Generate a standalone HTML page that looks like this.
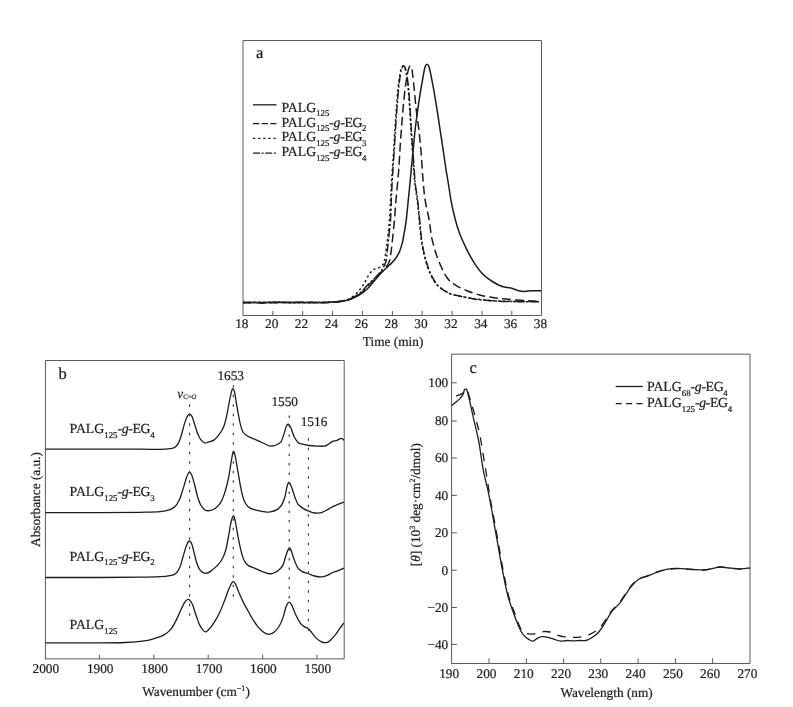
<!DOCTYPE html>
<html><head><meta charset="utf-8"><title>Figure</title>
<style>html,body{margin:0;padding:0;background:#fff}svg{display:block;will-change:transform;font-family:"Liberation Serif",serif;font-size:13.3px;fill:#1e1e1e;text-rendering:geometricPrecision}text{stroke:#1e1e1e;stroke-width:.22px}</style></head>
<body>
<svg width="793" height="707" viewBox="0 0 793 707">
<g id="panel-a">
<path d="M243 40.5H541.5V315.5H243Z" stroke="#5a5a5a" stroke-width="1" fill="none"/>
<path d="M272.9 315.5V311M302.7 315.5V311M332.6 315.5V311M362.5 315.5V311M392.4 315.5V311M422.2 315.5V311M452.1 315.5V311M482.0 315.5V311M511.8 315.5V311" stroke="#5a5a5a" stroke-width="1" fill="none"/>
<text x="241.8" y="327.8" text-anchor="middle">18</text>
<text x="271.7" y="327.8" text-anchor="middle">20</text>
<text x="301.5" y="327.8" text-anchor="middle">22</text>
<text x="331.4" y="327.8" text-anchor="middle">24</text>
<text x="361.3" y="327.8" text-anchor="middle">26</text>
<text x="391.2" y="327.8" text-anchor="middle">28</text>
<text x="421.0" y="327.8" text-anchor="middle">30</text>
<text x="450.9" y="327.8" text-anchor="middle">32</text>
<text x="480.8" y="327.8" text-anchor="middle">34</text>
<text x="510.6" y="327.8" text-anchor="middle">36</text>
<text x="540.5" y="327.8" text-anchor="middle">38</text>
<text x="393.1" y="346.3" text-anchor="middle">Time (min)</text>
<text x="256" y="57.6" font-size="16.5">a</text>
<path d="M243.0 302.8C245.0 302.8 251.8 302.4 255.0 302.5C258.2 302.6 259.2 303.2 262.0 303.2C264.8 303.1 267.3 302.3 272.0 302.2C276.7 302.1 283.7 302.4 290.0 302.5C296.3 302.6 304.2 302.5 310.0 302.5C315.8 302.5 320.8 302.7 325.0 302.6C329.2 302.5 332.4 302.2 335.0 302.0C337.6 301.8 338.9 301.7 340.9 301.4C342.9 301.1 344.6 301.1 346.9 300.4C349.2 299.7 352.3 298.5 354.8 297.4C357.3 296.2 359.6 295.0 361.7 293.5C363.8 292.0 365.5 290.6 367.7 288.5C369.9 286.4 372.6 282.9 374.6 280.6C376.6 278.3 378.0 276.5 379.6 274.7C381.2 272.9 382.7 271.4 384.5 269.7C386.3 268.0 388.6 266.1 390.4 264.3C392.2 262.5 393.9 260.9 395.4 258.8C396.9 256.7 398.2 254.5 399.4 251.9C400.5 249.3 401.6 245.4 402.3 243.0C403.0 240.6 402.7 241.3 403.4 237.4C404.1 233.5 405.5 225.9 406.3 219.6C407.1 213.3 407.7 205.6 408.3 199.8C408.9 194.0 409.3 190.2 409.8 185.0C410.3 179.8 410.7 174.8 411.3 168.8C411.9 162.8 412.7 155.6 413.3 149.0C413.9 142.4 414.4 135.8 415.2 129.2C415.9 122.6 416.9 116.0 417.8 109.4C418.7 102.8 419.8 95.5 420.8 89.6C421.8 83.7 422.9 77.6 423.6 73.8C424.3 70.0 424.5 68.4 425.1 66.8C425.7 65.2 426.5 64.3 427.1 64.3C427.8 64.3 428.4 65.2 429.0 66.8C429.6 68.4 429.9 70.0 430.7 73.8C431.5 77.6 432.6 83.7 433.7 89.6C434.8 95.5 435.9 102.8 437.0 109.4C438.1 116.0 439.0 122.6 440.0 129.2C441.0 135.8 442.0 142.4 443.0 149.0C444.0 155.6 445.0 162.8 445.9 168.8C446.8 174.8 447.8 179.8 448.6 185.0C449.4 190.2 449.8 194.0 450.9 199.8C452.0 205.6 453.9 214.3 455.4 220.0C456.9 225.7 458.0 229.4 459.8 234.1C461.6 238.8 463.9 243.6 466.2 248.3C468.5 253.0 471.2 258.2 473.9 262.4C476.6 266.6 479.3 270.5 482.4 273.7C485.5 276.9 489.0 279.4 492.3 281.5C495.6 283.6 499.1 285.4 502.2 286.5C505.3 287.6 508.1 287.2 510.7 287.9C513.3 288.5 515.4 289.8 517.8 290.4C520.2 291.0 522.5 291.3 524.9 291.4C527.2 291.4 529.2 290.8 531.9 290.7C534.6 290.6 539.6 290.7 541.1 290.7" stroke="#1c1c1c" stroke-width="1.5" fill="none" stroke-linejoin="round"/>
<path d="M243.0 302.3C247.5 302.4 260.5 302.8 270.0 302.8C279.5 302.8 290.8 302.4 300.0 302.3C309.2 302.2 318.2 302.7 325.0 302.5C331.8 302.3 337.2 301.7 340.9 301.3C344.5 300.9 344.6 301.0 346.9 300.3C349.2 299.6 352.3 298.3 354.8 297.0C357.3 295.7 359.2 294.5 361.7 292.3C364.2 290.1 367.2 286.6 369.7 284.0C372.2 281.4 374.3 279.4 376.6 277.0C378.9 274.6 381.5 271.6 383.5 269.3C385.5 267.1 387.3 265.9 388.5 263.5C389.7 261.1 389.9 259.0 390.6 255.0C391.3 251.0 391.9 245.3 392.5 239.4C393.1 233.5 393.9 226.2 394.5 219.6C395.1 213.0 395.5 205.6 396.0 199.8C396.5 194.0 396.9 190.2 397.4 185.0C397.9 179.8 398.4 174.8 398.8 168.8C399.2 162.8 399.6 155.6 400.0 149.0C400.4 142.4 400.9 135.8 401.4 129.2C401.9 122.6 402.4 116.0 403.0 109.4C403.6 102.8 404.3 95.4 405.0 89.6C405.7 83.8 406.6 78.1 407.3 74.5C408.0 70.9 408.5 69.2 409.0 67.8C409.5 66.3 409.9 65.8 410.4 65.8C410.8 65.8 411.3 66.3 411.7 67.8C412.1 69.2 412.2 70.9 412.6 74.5C413.0 78.1 413.7 83.8 414.3 89.6C414.9 95.4 415.4 102.8 416.2 109.4C416.9 116.0 418.0 122.6 418.8 129.2C419.6 135.8 420.2 142.4 420.8 149.0C421.4 155.6 421.8 162.8 422.2 168.8C422.6 174.8 423.0 179.8 423.5 185.0C424.0 190.2 424.2 194.0 425.1 199.8C426.0 205.6 427.9 213.0 429.1 219.6C430.3 226.2 430.6 232.8 432.1 239.4C433.6 246.0 435.5 252.8 438.0 259.2C440.5 265.6 444.0 273.2 446.9 277.5C449.8 281.8 452.3 282.9 455.6 285.1C458.9 287.3 462.9 289.1 466.9 290.7C470.9 292.3 475.1 293.8 479.6 295.0C484.1 296.2 489.0 297.1 493.7 297.8C498.4 298.5 502.7 298.7 507.9 299.2C513.1 299.7 519.7 300.2 524.9 300.6C530.1 301.0 536.6 301.2 539.0 301.3" stroke="#1c1c1c" stroke-width="1.5" fill="none" stroke-linejoin="round" stroke-dasharray="8.8 4.2"/>
<path d="M243.0 302.6C247.5 302.5 260.5 302.2 270.0 302.2C279.5 302.2 290.8 302.8 300.0 302.8C309.2 302.8 318.3 302.6 325.0 302.4C331.7 302.2 336.5 301.8 340.0 301.4C343.5 301.0 344.4 300.5 346.0 300.0C347.6 299.5 348.3 299.4 349.9 298.4C351.5 297.4 354.0 295.6 355.8 294.0C357.6 292.4 359.2 290.4 360.7 288.5C362.2 286.6 363.4 284.8 364.7 282.6C366.0 280.4 367.2 277.3 368.7 275.1C370.2 272.9 371.6 271.0 373.6 269.6C375.6 268.2 378.7 268.4 380.5 267.0C382.3 265.6 383.4 264.2 384.3 261.3C385.2 258.4 385.5 253.6 386.0 249.9C386.5 246.2 386.9 244.5 387.5 239.4C388.1 234.3 389.0 226.2 389.5 219.6C390.0 213.0 390.3 205.2 390.6 199.8C390.9 194.4 390.9 192.2 391.2 187.0C391.5 181.8 392.0 175.1 392.4 168.8C392.8 162.5 393.4 155.6 393.8 149.0C394.2 142.4 394.5 135.8 394.9 129.2C395.3 122.6 395.8 116.0 396.3 109.4C396.8 102.8 397.3 95.4 397.9 89.6C398.5 83.8 399.2 78.1 399.8 74.5C400.4 70.9 401.0 69.2 401.6 67.8C402.2 66.3 402.7 65.8 403.2 65.8C403.7 65.8 404.3 66.3 404.8 67.8C405.3 69.2 405.8 70.9 406.4 74.5C407.0 78.1 407.8 83.8 408.3 89.6C408.9 95.4 409.3 102.8 409.7 109.4C410.1 116.0 410.5 122.6 410.9 129.2C411.3 135.8 411.8 142.4 412.3 149.0C412.8 155.6 413.2 162.8 413.7 168.8C414.1 174.8 414.4 179.8 415.0 185.0C415.6 190.2 416.5 194.0 417.2 199.8C417.9 205.6 418.5 213.0 419.2 219.6C419.9 226.2 420.4 233.5 421.2 239.4C422.0 245.3 422.9 249.9 424.2 255.2C425.5 260.5 427.0 266.1 429.1 271.1C431.2 276.1 433.7 281.4 437.0 285.0C440.3 288.6 445.1 291.2 448.7 293.0C452.3 294.8 454.4 294.8 458.4 295.7C462.4 296.6 467.6 297.7 472.5 298.5C477.4 299.3 482.2 299.8 488.1 300.3C494.0 300.8 499.4 301.1 507.9 301.3C516.4 301.5 533.8 301.6 539.0 301.6" stroke="#1c1c1c" stroke-width="1.5" fill="none" stroke-linejoin="round" stroke-dasharray="2.2 2.8"/>
<path d="M243.0 302.4C247.5 302.4 260.5 302.6 270.0 302.6C279.5 302.6 290.8 302.4 300.0 302.4C309.2 302.4 318.2 302.8 325.0 302.6C331.8 302.4 337.2 301.7 340.9 301.3C344.5 300.9 344.6 301.0 346.9 300.2C349.2 299.4 352.3 298.1 354.8 296.6C357.3 295.2 359.2 293.8 361.7 291.5C364.2 289.2 367.2 285.4 369.7 282.8C372.2 280.2 374.5 278.6 376.6 276.2C378.7 273.8 381.0 271.1 382.5 268.7C384.0 266.3 385.0 264.8 385.8 262.0C386.6 259.2 386.8 255.8 387.2 252.0C387.6 248.2 387.9 244.8 388.5 239.4C389.1 234.0 390.0 226.2 390.5 219.6C391.0 213.0 391.1 205.2 391.3 199.8C391.5 194.4 391.6 192.2 391.9 187.0C392.2 181.8 392.6 175.1 393.0 168.8C393.4 162.5 393.9 155.6 394.3 149.0C394.7 142.4 395.1 135.8 395.5 129.2C395.9 122.6 396.4 116.0 396.9 109.4C397.4 102.8 397.9 95.4 398.5 89.6C399.1 83.8 399.8 78.1 400.4 74.5C401.0 70.9 401.6 69.2 402.1 67.8C402.6 66.3 403.1 65.8 403.6 65.8C404.1 65.8 404.7 66.3 405.2 67.8C405.7 69.2 406.2 70.9 406.8 74.5C407.4 78.1 408.1 83.8 408.7 89.6C409.2 95.4 409.7 102.8 410.1 109.4C410.5 116.0 410.9 122.6 411.3 129.2C411.7 135.8 412.2 142.4 412.7 149.0C413.2 155.6 413.7 162.8 414.1 168.8C414.6 174.8 414.8 179.8 415.4 185.0C416.0 190.2 416.9 194.0 417.6 199.8C418.3 205.6 418.9 213.0 419.6 219.6C420.3 226.2 420.8 233.5 421.6 239.4C422.4 245.3 423.3 249.9 424.6 255.2C425.9 260.5 427.4 266.1 429.5 271.1C431.6 276.1 434.1 281.3 437.4 285.0C440.6 288.7 445.4 291.4 449.0 293.2C452.6 295.0 454.9 295.0 458.8 295.9C462.7 296.8 467.6 297.9 472.5 298.7C477.4 299.5 482.2 300.0 488.1 300.5C494.0 301.0 499.4 301.3 507.9 301.5C516.4 301.7 533.8 301.8 539.0 301.8" stroke="#1c1c1c" stroke-width="1.5" fill="none" stroke-linejoin="round" stroke-dasharray="9 2.2 2 2.2"/>
<path d="M253 104.8H276.5" stroke="#1c1c1c" stroke-width="1.3" fill="none" stroke-linejoin="round"/>
<path d="M253 123.6H276.5" stroke="#1c1c1c" stroke-width="1.3" fill="none" stroke-linejoin="round" stroke-dasharray="6.3 2.4"/>
<path d="M253 138.4H276.5" stroke="#1c1c1c" stroke-width="1.3" fill="none" stroke-linejoin="round" stroke-dasharray="2.3 2.8"/>
<path d="M253 153.1H276.5" stroke="#1c1c1c" stroke-width="1.3" fill="none" stroke-linejoin="round" stroke-dasharray="7 1.6 2 1.6"/>
<text x="281.4" y="111.6" text-anchor="start" font-size="13.8">PALG<tspan dy="4.7" font-size="8.8">125</tspan></text>
<text x="281.4" y="126.5" text-anchor="start" font-size="13.8">PALG<tspan dy="4.7" font-size="8.8">125</tspan><tspan dy="-4.7" letter-spacing="-0.35">-<tspan font-style="italic">g</tspan>-EG</tspan><tspan dy="4.7" font-size="8.8">2</tspan></text>
<text x="281.4" y="141.4" text-anchor="start" font-size="13.8">PALG<tspan dy="4.7" font-size="8.8">125</tspan><tspan dy="-4.7" letter-spacing="-0.35">-<tspan font-style="italic">g</tspan>-EG</tspan><tspan dy="4.7" font-size="8.8">3</tspan></text>
<text x="281.4" y="156.3" text-anchor="start" font-size="13.8">PALG<tspan dy="4.7" font-size="8.8">125</tspan><tspan dy="-4.7" letter-spacing="-0.35">-<tspan font-style="italic">g</tspan>-EG</tspan><tspan dy="4.7" font-size="8.8">4</tspan></text>
</g>
<g id="panel-b">
<path d="M45.4 360.5H344.2V658.9H45.4Z" stroke="#5a5a5a" stroke-width="1" fill="none"/>
<path d="M99.4 658.9V654.6M153.8 658.9V654.6M208.2 658.9V654.6M262.6 658.9V654.6M317.0 658.9V654.6" stroke="#5a5a5a" stroke-width="1" fill="none"/>
<text x="45.8" y="672.8" text-anchor="middle">2000</text>
<text x="100.2" y="672.8" text-anchor="middle">1900</text>
<text x="154.6" y="672.8" text-anchor="middle">1800</text>
<text x="209.0" y="672.8" text-anchor="middle">1700</text>
<text x="263.4" y="672.8" text-anchor="middle">1600</text>
<text x="317.8" y="672.8" text-anchor="middle">1500</text>
<text x="142.3" y="696.1">Wavenumber (cm<tspan dy="-5" font-size="8">−1</tspan><tspan dy="5">)</tspan></text>
<text transform="translate(40.2 499.5) rotate(-90)" text-anchor="middle">Absorbance (a.u.)</text>
<text x="58.6" y="379.3" font-size="16.5">b</text>
<path d="M45.4 449.1C54.5 449.1 84.2 449.1 100.0 449.1C115.8 449.1 130.0 449.2 140.0 449.2C150.0 449.2 155.0 449.4 160.0 449.3C165.0 449.2 167.4 449.0 169.9 448.7C172.4 448.4 173.4 448.4 174.9 447.3C176.4 446.2 177.7 444.7 178.8 442.4C180.0 440.1 180.8 436.8 181.8 433.5C182.8 430.2 183.8 425.6 184.8 422.6C185.8 419.6 186.9 417.0 187.7 415.6C188.5 414.2 189.0 413.9 189.7 414.1C190.4 414.3 191.3 414.9 192.1 416.6C192.9 418.4 193.8 421.8 194.7 424.6C195.6 427.4 196.6 431.0 197.6 433.5C198.6 436.0 199.4 437.8 200.6 439.4C201.8 441.0 203.3 442.6 204.6 443.0C205.9 443.4 207.0 442.2 208.5 441.8C210.0 441.4 211.8 441.5 213.5 440.4C215.2 439.3 216.8 437.5 218.4 435.4C220.1 433.2 222.1 430.5 223.4 427.5C224.7 424.5 225.3 421.9 226.3 417.6C227.3 413.3 228.4 406.2 229.3 401.8C230.2 397.4 231.1 393.0 231.7 390.9C232.3 388.8 232.4 388.7 232.9 388.9C233.4 389.1 233.8 388.8 234.5 391.9C235.2 395.0 236.2 402.4 237.2 407.7C238.1 413.0 239.2 419.5 240.2 423.6C241.2 427.7 241.9 430.4 243.2 432.5C244.5 434.6 246.1 435.2 248.1 436.4C250.1 437.5 252.5 438.3 255.0 439.4C257.5 440.5 260.5 441.9 263.0 443.0C265.5 444.1 267.8 445.8 270.0 446.1C272.2 446.4 274.4 445.7 276.2 445.0C278.0 444.3 279.6 443.6 280.9 441.9C282.1 440.2 282.8 437.5 283.7 434.9C284.6 432.3 285.5 428.1 286.3 426.3C287.1 424.5 287.9 424.0 288.7 424.3C289.5 424.6 290.1 425.9 291.0 427.9C291.9 429.9 292.9 434.1 294.1 436.5C295.3 438.9 296.6 441.1 298.0 442.4C299.4 443.7 300.9 443.7 302.7 444.2C304.5 444.7 306.6 445.2 308.9 445.5C311.2 445.8 314.1 446.0 316.7 446.1C319.3 446.2 322.6 446.4 324.5 446.1C326.4 445.8 327.1 444.9 328.4 444.2C329.7 443.4 330.9 442.2 332.3 441.6C333.7 441.0 335.4 440.9 336.9 440.4C338.4 439.8 340.1 438.3 341.3 438.3C342.5 438.3 343.5 440.0 343.9 440.4" stroke="#1c1c1c" stroke-width="1.3" fill="none" stroke-linejoin="round"/>
<path d="M45.4 512.6C54.5 512.6 84.2 512.7 100.0 512.6C115.8 512.5 130.0 512.4 140.0 512.3C150.0 512.1 155.0 512.1 160.0 511.7C165.0 511.3 167.3 510.7 169.9 509.7C172.5 508.7 174.2 507.5 175.8 505.7C177.5 503.9 178.5 501.8 179.8 498.8C181.1 495.8 182.2 491.5 183.4 487.9C184.6 484.3 185.7 479.6 186.7 477.0C187.7 474.4 188.5 472.4 189.3 472.1C190.1 471.8 190.8 472.9 191.7 475.0C192.6 477.1 193.7 481.4 194.7 485.0C195.7 488.6 196.6 493.5 197.6 496.8C198.6 500.1 199.4 502.7 200.6 504.8C201.8 506.9 203.1 508.7 204.6 509.7C206.1 510.7 207.7 510.9 209.5 510.7C211.3 510.5 213.6 509.6 215.4 508.3C217.2 507.0 218.9 505.2 220.4 502.8C221.9 500.4 223.1 497.9 224.4 493.9C225.7 489.9 227.2 484.4 228.3 479.0C229.5 473.6 230.5 465.8 231.3 461.2C232.1 456.6 232.7 452.5 233.3 451.7C234.0 450.9 234.4 452.6 235.2 456.2C236.0 459.8 237.2 467.5 238.2 473.1C239.2 478.7 240.2 485.3 241.2 489.9C242.2 494.5 243.0 498.0 244.2 500.8C245.3 503.6 246.4 505.2 248.1 506.7C249.8 508.2 251.6 508.9 254.1 509.7C256.6 510.5 260.4 511.3 263.0 511.7C265.6 512.1 267.7 512.2 270.0 511.9C272.3 511.5 275.1 510.8 277.0 509.6C278.9 508.4 280.4 507.0 281.7 504.9C283.0 502.8 283.9 500.3 284.8 497.2C285.7 494.1 286.4 488.8 287.1 486.3C287.8 483.8 288.3 482.1 289.1 482.4C289.9 482.6 290.8 485.3 291.8 487.8C292.8 490.3 293.9 494.5 294.9 497.2C295.9 499.9 296.7 502.4 298.0 504.2C299.3 506.0 300.9 506.9 302.7 508.1C304.5 509.3 306.8 510.4 308.9 511.2C311.0 512.0 313.0 512.8 315.1 513.0C317.2 513.2 319.3 513.3 321.4 512.7C323.5 512.1 325.8 510.6 327.6 509.6C329.4 508.6 330.5 507.7 332.3 506.8C334.1 505.9 336.6 505.0 338.5 504.2C340.4 503.4 343.0 502.5 343.9 502.1" stroke="#1c1c1c" stroke-width="1.3" fill="none" stroke-linejoin="round"/>
<path d="M45.4 577.5C54.5 577.5 84.2 577.5 100.0 577.5C115.8 577.5 130.0 577.3 140.0 577.2C150.0 577.1 155.0 577.0 160.0 576.7C165.0 576.5 167.3 576.2 169.9 575.7C172.5 575.2 174.2 574.8 175.8 573.4C177.5 572.0 178.6 570.0 179.8 567.4C181.0 564.8 181.8 560.8 182.8 557.5C183.8 554.2 184.8 550.2 185.7 547.6C186.6 545.0 187.4 543.2 188.1 542.1C188.8 541.0 189.1 540.8 189.7 541.1C190.3 541.4 191.0 541.8 191.7 543.7C192.4 545.6 193.3 549.5 194.1 552.6C194.9 555.7 195.7 559.7 196.6 562.5C197.5 565.3 198.6 567.8 199.6 569.4C200.6 571.0 201.5 571.7 202.6 572.4C203.7 573.1 204.6 573.6 205.9 573.4C207.2 573.2 208.8 572.6 210.5 571.4C212.2 570.2 214.6 568.2 216.4 566.4C218.2 564.6 219.9 563.0 221.4 560.5C222.9 558.0 224.2 555.4 225.3 551.6C226.5 547.8 227.4 542.5 228.3 537.7C229.2 532.9 230.1 526.5 230.9 522.9C231.7 519.3 232.6 516.2 233.3 515.9C234.0 515.6 234.4 517.3 235.2 520.9C236.0 524.5 237.2 532.6 238.2 537.7C239.2 542.8 240.2 547.8 241.2 551.6C242.2 555.4 243.0 558.2 244.2 560.5C245.3 562.8 246.3 564.1 248.1 565.4C249.9 566.7 252.5 567.3 255.0 568.4C257.5 569.5 260.8 570.9 263.0 571.8C265.2 572.6 266.4 573.2 268.0 573.5C269.6 573.8 270.9 574.0 272.6 573.5C274.3 573.0 276.6 572.0 278.4 570.6C280.1 569.2 281.8 567.5 283.1 564.9C284.4 562.3 285.0 558.1 286.0 555.3C287.0 552.5 288.1 549.2 288.9 548.3C289.7 547.3 290.0 548.0 290.8 549.6C291.6 551.2 292.6 555.2 293.7 558.2C294.8 561.2 296.1 565.2 297.5 567.4C298.9 569.6 300.4 570.6 302.2 571.6C303.9 572.6 305.9 572.8 308.0 573.5C310.1 574.2 312.5 575.4 314.7 576.0C316.9 576.6 319.3 577.0 321.4 576.9C323.5 576.8 325.2 576.1 327.1 575.4C329.0 574.7 330.9 573.3 332.8 572.5C334.7 571.7 336.6 571.3 338.5 570.6C340.4 569.9 343.0 568.5 343.9 568.1" stroke="#1c1c1c" stroke-width="1.3" fill="none" stroke-linejoin="round"/>
<path d="M45.4 642.8C54.5 642.8 86.7 642.8 100.0 642.8C113.3 642.8 118.3 642.8 125.0 642.5C131.7 642.2 135.8 641.8 140.0 641.3C144.2 640.8 146.7 640.6 150.0 639.8C153.3 639.0 157.3 637.7 160.0 636.7C162.7 635.7 163.9 635.3 165.9 633.8C167.9 632.3 170.1 630.3 171.9 627.8C173.7 625.3 175.3 621.9 176.8 618.9C178.3 615.9 179.5 612.8 180.8 610.0C182.1 607.2 183.7 603.9 184.8 602.1C186.0 600.4 186.9 599.8 187.7 599.5C188.5 599.2 188.9 599.2 189.7 600.1C190.5 601.0 191.7 602.7 192.7 605.0C193.7 607.3 194.4 610.7 195.6 614.0C196.8 617.3 198.3 622.2 199.6 624.9C200.9 627.6 202.1 629.2 203.2 630.4C204.2 631.5 204.8 632.1 205.9 631.8C207.0 631.5 208.1 630.4 209.5 628.8C210.9 627.1 212.8 624.5 214.5 621.9C216.2 619.3 217.8 616.5 219.4 613.0C221.1 609.5 222.9 604.9 224.4 601.1C225.9 597.3 227.2 593.1 228.3 590.2C229.5 587.3 230.5 585.1 231.3 583.7C232.1 582.3 232.6 581.6 233.3 581.7C234.0 581.8 234.6 582.4 235.6 584.3C236.6 586.2 237.9 590.2 239.2 593.2C240.5 596.2 241.7 599.1 243.2 602.1C244.7 605.1 246.4 608.0 248.1 611.0C249.8 614.0 251.4 617.3 253.1 619.9C254.8 622.5 256.4 624.8 258.0 626.8C259.6 628.8 261.6 630.6 263.0 631.8C264.4 633.0 265.4 633.4 266.5 633.8C267.6 634.2 268.4 634.6 269.8 634.2C271.2 633.9 273.0 633.1 274.6 631.7C276.2 630.3 277.9 628.4 279.3 626.0C280.7 623.6 282.0 620.6 283.1 617.4C284.2 614.2 285.0 609.4 286.0 606.9C287.0 604.4 287.9 602.4 288.9 602.1C289.8 601.8 290.6 602.9 291.7 605.0C292.8 607.1 294.2 611.6 295.6 614.6C297.0 617.6 298.9 621.2 300.3 623.2C301.7 625.2 302.9 625.7 304.2 626.6C305.5 627.5 306.7 627.5 308.0 628.5C309.3 629.5 310.4 631.1 311.8 632.7C313.2 634.4 315.0 636.9 316.6 638.4C318.2 639.9 319.8 641.2 321.4 641.9C323.0 642.6 324.7 642.8 326.1 642.6C327.5 642.4 328.5 641.9 329.9 640.7C331.3 639.5 333.1 637.6 334.7 635.6C336.3 633.6 338.0 631.0 339.5 628.9C341.0 626.8 343.2 623.8 343.9 622.8" stroke="#1c1c1c" stroke-width="1.3" fill="none" stroke-linejoin="round"/>
<path d="M189.6 404.2V617" stroke="#333" stroke-width="1.1" fill="none" stroke-dasharray="2.6 6.9"/>
<path d="M233.3 385.2V598" stroke="#333" stroke-width="1.1" fill="none" stroke-dasharray="2.6 6.9"/>
<path d="M289.2 415.5V599.5" stroke="#333" stroke-width="1.1" fill="none" stroke-dasharray="2.6 6.9"/>
<path d="M308.4 438.2V632" stroke="#333" stroke-width="1.1" fill="none" stroke-dasharray="2.6 6.9"/>
<text x="230.7" y="379.5" text-anchor="middle">1653</text>
<text x="284.7" y="406" text-anchor="middle">1550</text>
<text x="314" y="425.8" text-anchor="middle">1516</text>
<text x="177.3" y="397.5"><tspan font-style="italic">ν</tspan><tspan dy="1.6" font-size="6.8">C=O</tspan></text>
<text x="69.5" y="433.4" text-anchor="start" font-size="13.8">PALG<tspan dy="4.7" font-size="8.8">125</tspan><tspan dy="-4.7" letter-spacing="-0.35">-<tspan font-style="italic">g</tspan>-EG</tspan><tspan dy="4.7" font-size="8.8">4</tspan></text>
<text x="69.5" y="495.8" text-anchor="start" font-size="13.8">PALG<tspan dy="4.7" font-size="8.8">125</tspan><tspan dy="-4.7" letter-spacing="-0.35">-<tspan font-style="italic">g</tspan>-EG</tspan><tspan dy="4.7" font-size="8.8">3</tspan></text>
<text x="69.5" y="560.6" text-anchor="start" font-size="13.8">PALG<tspan dy="4.7" font-size="8.8">125</tspan><tspan dy="-4.7" letter-spacing="-0.35">-<tspan font-style="italic">g</tspan>-EG</tspan><tspan dy="4.7" font-size="8.8">2</tspan></text>
<text x="69.5" y="629.0" text-anchor="start" font-size="13.8">PALG<tspan dy="4.7" font-size="8.8">125</tspan></text>
</g>
<g id="panel-c">
<path d="M451.6 354.2H750V663.5H451.6Z" stroke="#5a5a5a" stroke-width="1" fill="none"/>
<path d="M489.0 663.5V658.3M526.3 663.5V658.3M563.6 663.5V658.3M600.8 663.5V658.3M638.1 663.5V658.3M675.4 663.5V658.3M712.6 663.5V658.3M451.6 382.8H456.8M451.6 421.0H456.8M451.6 458.0H456.8M451.6 495.4H456.8M451.6 532.8H456.8M451.6 570.2H456.8M451.6 607.5H456.8M451.6 644.4H456.8" stroke="#5a5a5a" stroke-width="1" fill="none"/>
<text x="449.2" y="678.0" text-anchor="middle">190</text>
<text x="486.5" y="678.0" text-anchor="middle">200</text>
<text x="523.8" y="678.0" text-anchor="middle">210</text>
<text x="561.1" y="678.0" text-anchor="middle">220</text>
<text x="598.3" y="678.0" text-anchor="middle">230</text>
<text x="635.6" y="678.0" text-anchor="middle">240</text>
<text x="672.9" y="678.0" text-anchor="middle">250</text>
<text x="710.1" y="678.0" text-anchor="middle">260</text>
<text x="747.4" y="678.0" text-anchor="middle">270</text>
<text x="448.2" y="387.2" text-anchor="end">100</text>
<text x="448.2" y="425.4" text-anchor="end">80</text>
<text x="448.2" y="462.4" text-anchor="end">60</text>
<text x="448.2" y="499.8" text-anchor="end">40</text>
<text x="448.2" y="537.2" text-anchor="end">20</text>
<text x="448.2" y="574.6" text-anchor="end">0</text>
<text x="448.2" y="611.9" text-anchor="end">−20</text>
<text x="448.2" y="648.8" text-anchor="end">−40</text>
<text x="606.6" y="697.2" text-anchor="middle">Wavelength (nm)</text>
<text transform="translate(419.8 504.7) rotate(-90)" text-anchor="middle">[<tspan font-style="italic">θ</tspan>] (10<tspan dy="-5" font-size="8">3</tspan><tspan dy="5"> deg·cm</tspan><tspan dy="-5" font-size="8">2</tspan><tspan dy="5">/dmol)</tspan></text>
<text x="469.5" y="372.8" font-size="16.5">c</text>
<path d="M451.8 405.6C453.1 404.4 458.0 400.5 459.9 398.6C461.8 396.7 462.3 395.8 463.0 394.4C463.7 392.9 463.9 390.8 464.3 389.9C464.7 389.0 465.2 389.1 465.6 389.2C466.1 389.2 466.4 388.4 467.0 390.2C467.6 391.9 468.3 394.9 469.4 399.7C470.5 404.5 472.0 411.7 473.6 418.8C475.2 425.9 477.3 433.6 478.9 442.1C480.5 450.6 481.6 461.2 483.2 469.7C484.8 478.2 487.1 486.4 488.5 493.1C489.9 499.8 490.3 502.2 491.7 510.0C493.1 517.8 495.2 529.8 497.0 539.7C498.8 549.6 500.5 560.2 502.3 569.4C504.1 578.6 505.7 587.5 507.6 594.9C509.5 602.3 511.9 608.5 513.9 614.0C515.8 619.5 517.7 624.3 519.3 627.8C520.9 631.3 521.9 633.3 523.5 635.2C525.1 637.1 527.2 638.4 528.8 639.4C530.4 640.4 531.6 641.3 533.0 641.1C534.4 640.9 535.9 639.1 537.3 638.4C538.7 637.7 539.7 636.9 541.5 636.7C543.3 636.5 545.8 636.8 547.9 637.3C550.0 637.8 552.2 638.8 554.3 639.4C556.4 640.0 558.5 640.9 560.6 641.1C562.7 641.3 564.9 640.5 567.0 640.5C569.1 640.5 571.3 640.9 573.4 640.9C575.5 640.9 577.6 640.6 579.7 640.5C581.8 640.4 584.0 641.0 586.1 640.5C588.2 640.0 590.4 638.7 592.5 637.3C594.6 635.9 596.7 634.5 598.8 632.0C600.9 629.5 603.1 625.9 605.2 622.5C607.3 619.1 609.1 615.1 611.6 611.8C614.1 608.5 617.1 606.7 620.2 602.7C623.3 598.7 627.3 591.5 630.3 587.6C633.3 583.7 635.6 581.4 638.3 579.5C641.0 577.6 643.4 577.7 646.4 576.5C649.4 575.3 653.1 573.7 656.5 572.5C659.9 571.3 663.2 570.1 666.6 569.4C670.0 568.7 673.3 568.5 676.7 568.4C680.1 568.3 682.4 568.8 686.8 569.0C691.2 569.2 698.5 569.9 702.9 569.8C707.3 569.7 710.1 568.9 713.0 568.4C715.9 567.9 717.4 566.9 720.1 566.8C722.8 566.7 725.6 567.7 729.1 568.0C732.6 568.3 737.8 568.8 741.2 568.8C744.6 568.8 748.3 568.1 749.7 568.0" stroke="#1c1c1c" stroke-width="1.3" fill="none" stroke-linejoin="round"/>
<path d="M456.2 396.1C457.3 395.6 461.6 394.0 463.0 392.9C464.4 391.8 463.9 389.7 464.7 389.5C465.4 389.3 466.4 389.1 467.5 391.5C468.6 393.9 470.1 399.3 471.5 403.9C472.9 408.4 474.4 413.5 475.8 418.8C477.2 424.1 478.8 429.8 480.0 435.8C481.2 441.8 482.1 448.5 483.2 454.9C484.3 461.3 485.3 467.3 486.4 474.0C487.5 480.7 488.6 488.9 489.6 495.2C490.7 501.5 491.3 504.6 492.7 512.0C494.1 519.4 496.1 530.1 497.8 539.7C499.5 549.3 501.2 560.2 503.0 569.4C504.8 578.6 506.4 587.6 508.3 594.9C510.2 602.2 512.6 607.5 514.6 613.0C516.6 618.5 518.6 624.5 520.3 627.8C522.0 631.1 522.8 631.5 524.6 632.6C526.4 633.7 528.8 634.0 530.9 634.1C533.0 634.2 535.2 633.5 537.3 633.1C539.4 632.7 541.6 631.8 543.7 631.6C545.8 631.4 547.9 631.5 550.0 632.0C552.1 632.5 553.9 634.0 556.4 634.8C558.9 635.6 562.1 636.5 564.9 636.9C567.7 637.3 570.6 637.3 573.4 637.3C576.2 637.3 579.0 637.2 581.8 636.7C584.6 636.2 587.5 635.4 590.3 634.1C593.1 632.8 596.3 631.1 598.8 628.8C601.3 626.5 603.1 623.3 605.2 620.3C607.3 617.3 609.1 613.9 611.6 610.8C614.1 607.7 617.1 605.7 620.2 601.7C623.3 597.7 627.3 590.5 630.3 586.8C633.3 583.0 635.6 581.0 638.3 579.2C641.0 577.4 643.4 577.4 646.4 576.2C649.4 575.0 653.1 573.3 656.5 572.2C659.9 571.1 663.2 570.2 666.6 569.6C670.0 569.0 673.3 568.7 676.7 568.6C680.1 568.5 682.4 569.0 686.8 569.2C691.2 569.4 698.5 570.1 702.9 570.0C707.3 569.9 710.1 569.1 713.0 568.6C715.9 568.1 717.4 567.1 720.1 567.0C722.8 566.9 725.6 567.9 729.1 568.2C732.6 568.5 737.8 569.0 741.2 569.0C744.6 569.0 748.3 568.3 749.7 568.2" stroke="#1c1c1c" stroke-width="1.3" fill="none" stroke-linejoin="round" stroke-dasharray="8.5 7.2"/>
<path d="M615.7 386.5H642.8" stroke="#1c1c1c" stroke-width="1.3" fill="none" stroke-linejoin="round"/>
<path d="M615.7 403.7H642.8" stroke="#1c1c1c" stroke-width="1.3" fill="none" stroke-linejoin="round" stroke-dasharray="6 4.4"/>
<text x="647.0" y="391.2" text-anchor="start" font-size="13.8">PALG<tspan dy="4.7" font-size="8.8">68</tspan><tspan dy="-4.7" letter-spacing="-0.35">-<tspan font-style="italic">g</tspan>-EG</tspan><tspan dy="4.7" font-size="8.8">4</tspan></text>
<text x="647.0" y="407.3" text-anchor="start" font-size="13.8">PALG<tspan dy="4.7" font-size="8.8">125</tspan><tspan dy="-4.7" letter-spacing="-0.35">-<tspan font-style="italic">g</tspan>-EG</tspan><tspan dy="4.7" font-size="8.8">4</tspan></text>
</g>
</svg>
</body></html>
